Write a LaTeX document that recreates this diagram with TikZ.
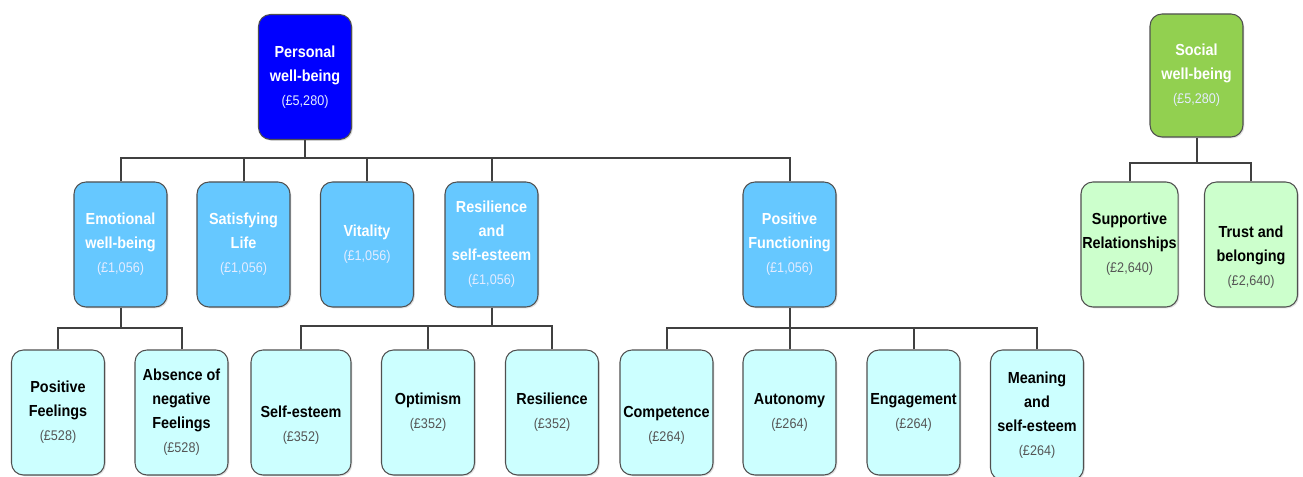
\documentclass[tikz,border=0pt]{standalone}
\usepackage{fontspec}
\setmainfont{Liberation Sans}[FakeStretch=0.9]
\usetikzlibrary{shadows}
\definecolor{bordergray}{HTML}{505050}
\definecolor{conncol}{HTML}{404040}
\definecolor{topblue}{HTML}{0000FF}
\definecolor{topgreen}{HTML}{92D050}
\definecolor{midblue}{HTML}{66C8FF}
\definecolor{lightcyan}{HTML}{CCFFFF}
\definecolor{lightgreen}{HTML}{CCFFCC}
\definecolor{pricelight}{HTML}{E4ECFF}
\definecolor{pricedark}{HTML}{555555}
\newcommand\prw[1]{{\mdseries\fontsize{10.5}{18}\selectfont\color{pricelight}#1}}
\newcommand\prg[1]{{\mdseries\fontsize{10.5}{18}\selectfont\color{pricedark}#1}}
\newcommand\lowr{\rule{0pt}{9pt}\\}
\tikzset{
  box/.style={draw=bordergray, line width=0.8pt, rounded corners=9pt, align=center,
    inner sep=1pt, minimum width=69.75pt, minimum height=93.75pt,
    font=\fontsize{12}{18}\selectfont\bfseries,
    drop shadow={opacity=0.25, shadow xshift=1pt, shadow yshift=-1pt}},
  topbox/.style={box, fill=topblue, text=white},
  topgbox/.style={box, fill=topgreen, text=white},
  midbox/.style={box, fill=midblue, text=white},
  leafbox/.style={box, fill=lightcyan, text=black},
  sleafbox/.style={box, fill=lightgreen, text=black},
  conn/.style={draw=conncol, line width=1.5pt}
}
\begin{document}
\begin{tikzpicture}[x=0.75pt,y=-0.75pt]
\useasboundingbox (0,0) rectangle (1303,477);
% top level
\node[topbox] (pers) at (305,77) {Personal\\well-being\\\prw{(£5,280)}};
\node[topgbox, minimum height=92.25pt] (soc) at (1196.5,75.5) {Social\\well-being\\\prw{(£5,280)}};
% level 2
\node[midbox] (emo) at (120.5,244.5) {Emotional\\well-being\\\prw{(£1,056)}};
\node[midbox] (sat) at (243.5,244.5) {Satisfying\\Life\\\prw{(£1,056)}};
\node[midbox] (vit) at (367,244.5) {Vitality\\\prw{(£1,056)}};
\node[midbox] (res) at (491.5,244.5) {Resilience\\and\\self-esteem\\\prw{(£1,056)}};
\node[midbox] (pf) at (789.5,244.5) {Positive\\Functioning\\\prw{(£1,056)}};
\node[sleafbox] (sup) at (1129.5,244.5) {Supportive\\Relationships\\\prg{(£2,640)}};
\node[sleafbox] (tru) at (1251,244.5) {\lowr Trust and\\belonging\\\prg{(£2,640)}};
% level 3
\node[leafbox] (pfe) at (58,412.5) {Positive\\Feelings\\\prg{(£528)}};
\node[leafbox] (abs) at (181.5,412.5) {Absence of\\negative\\Feelings\\\prg{(£528)}};
\node[leafbox, minimum width=75pt] (sest) at (301,412.5) {\lowr Self-esteem\\\prg{(£352)}};
\node[leafbox] (opt) at (428,412.5) {Optimism\\\prg{(£352)}};
\node[leafbox] (resl) at (552,412.5) {Resilience\\\prg{(£352)}};
\node[leafbox] (comp) at (666.5,412.5) {\lowr Competence\\\prg{(£264)}};
\node[leafbox] (aut) at (789.5,412.5) {Autonomy\\\prg{(£264)}};
\node[leafbox] (eng) at (913.5,412.5) {Engagement\\\prg{(£264)}};
\node[leafbox, minimum height=97.5pt] (mea) at (1037,415) {Meaning\\and\\self-esteem\\\prg{(£264)}};
% bus coordinates
\coordinate (bp) at (305,158);
\coordinate (bs) at (1196.5,163);
\coordinate (be) at (120.5,328);
\coordinate (br) at (491.5,326);
\coordinate (bf) at (789.5,328);
% connectors
\draw[conn] (pers.south) -- (bp);
\foreach \c in {emo,sat,vit,res,pf} \draw[conn] (\c.north) |- (bp);
\draw[conn] (soc.south) -- (bs);
\foreach \c in {sup,tru} \draw[conn] (\c.north) |- (bs);
\draw[conn] (emo.south) -- (be);
\foreach \c in {pfe,abs} \draw[conn] (\c.north) |- (be);
\draw[conn] (res.south) -- (br);
\foreach \c in {sest,opt,resl} \draw[conn] (\c.north) |- (br);
\draw[conn] (pf.south) -- (bf);
\foreach \c in {comp,aut,eng,mea} \draw[conn] (\c.north) |- (bf);
\end{tikzpicture}
\end{document}
